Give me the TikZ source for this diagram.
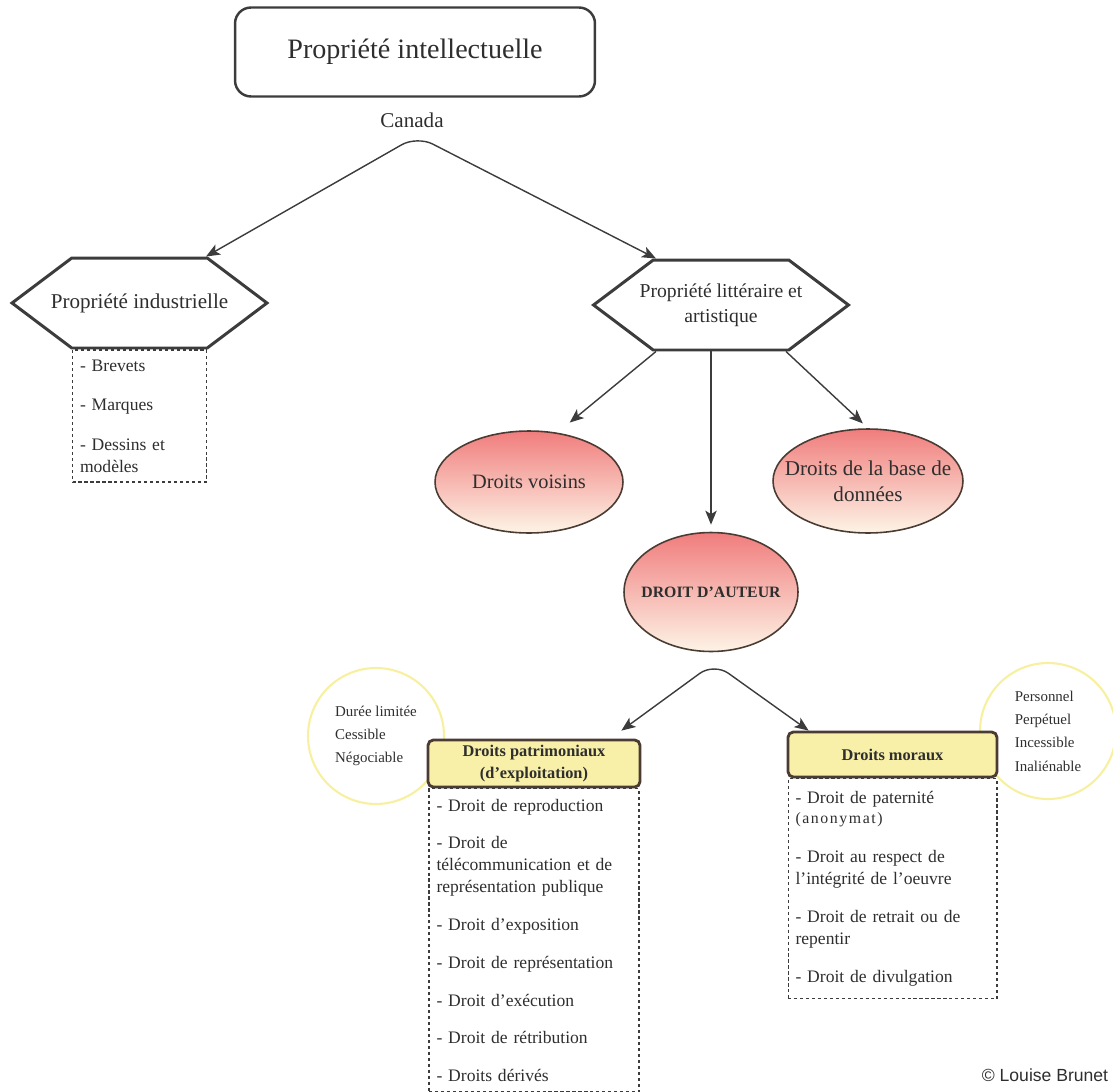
\documentclass[tikz,border=0pt]{standalone}
\usepackage{fontspec}
\setmainfont{Liberation Serif}
\newfontfamily\signfont{Liberation Sans}
\usetikzlibrary{shapes.symbols,shapes.geometric,arrows.meta,positioning}
\definecolor{inkgray}{HTML}{3C3C3C}
\definecolor{textgray}{HTML}{2E2E2E}
\definecolor{roseTop}{RGB}{240,125,125}
\definecolor{roseBot}{RGB}{253,244,230}
\definecolor{rimBrown}{HTML}{4A3B33}
\definecolor{boxYellow}{RGB}{248,240,168}
\definecolor{ringYellow}{RGB}{247,240,160}
\begin{document}
\begin{tikzpicture}[x=0.02cm,y=-0.02cm,
  every node/.style={text=textgray},
  titlebox/.style={draw=inkgray,line width=1.4pt,rounded corners=0.32cm,minimum width=7.2cm,minimum height=1.78cm,font=\fontsize{16}{19}\selectfont},
  hexbox/.style={draw=inkgray,line width=1.7pt,signal,signal to=east and west,signal pointer angle=74,minimum width=5.1cm,minimum height=1.8cm,inner xsep=-0.5cm,inner ysep=0pt,align=center},
  listbox/.style={draw=inkgray,line width=0.6pt,dash pattern=on 1.8pt off 1.6pt,anchor=north,align=left,inner xsep=0.15cm,font=\fontsize{10}{12.5}\selectfont},
  rosebox/.style={ellipse,draw=rimBrown,line width=0.9pt,top color=roseTop,bottom color=roseBot,inner xsep=-0.45cm,inner ysep=0pt,align=center},
  rightsbox/.style={draw=rimBrown,line width=1.6pt,fill=boxYellow,rounded corners=3pt,inner ysep=1pt,align=center,font=\bfseries\fontsize{9.3}{12.5}\selectfont},
  ring/.style={circle,draw=ringYellow,line width=1.2pt,minimum size=2.72cm,inner sep=1pt,align=left,font=\fontsize{8.5}{13.3}\selectfont},
  link/.style={draw=inkgray,line width=0.8pt,rounded corners=10pt,{Stealth[length=8pt,width=6.5pt,inset=2pt]}-{Stealth[length=8pt,width=6.5pt,inset=2pt]}},
  branch/.style={draw=inkgray,line width=0.8pt,-{Stealth[length=8pt,width=6.5pt,inset=2pt]}}
]
\useasboundingbox (0,0) rectangle (1113,1092);
% Title
\node[titlebox] (intell) at (415,52) {Propriété intellectuelle};
\node[font=\fontsize{12}{14}\selectfont] (canada) at (412,120) {Canada};
\coordinate (fork1) at (417,136);
% Two branches of the property
\node[hexbox,font=\fontsize{12}{14}\selectfont] (indus) at (139.5,303) {Propriété industrielle};
\node[hexbox,font=\fontsize{11.2}{14}\selectfont] (litter) at (721,305) {Propriété littéraire et\\artistique};
\draw[link] ([xshift=1.33cm]indus.north) -- (fork1) -- ([xshift=-1.3cm]litter.north);
\node[listbox,text width=2.38cm,minimum height=2.64cm] (indusList) at (indus.south) {- Brevets\\[10pt]- Marques\\[10pt]- Dessins et\\modèles};
% Ellipses
\node[rosebox,minimum width=3.76cm,minimum height=2.04cm,font=\fontsize{11.6}{14}\selectfont] (voisins) at (529,482) {Droits voisins};
\node[rosebox,minimum width=3.8cm,minimum height=2.08cm,font=\fontsize{12}{14.7}\selectfont] (basedon) at (868,481) {Droits de la base de\\données};
\node[rosebox,minimum width=3.48cm,minimum height=2.38cm,font=\bfseries\fontsize{9}{11}\selectfont] (auteur) at (711,592) {DROIT D'AUTEUR};
\draw[branch,shorten >=9pt] ([xshift=-1.3cm]litter.south) -- (voisins.60);
\draw[branch,shorten >=4pt] (auteur.north |- litter.south) -- (auteur.north);
\draw[branch,shorten >=4pt] ([xshift=1.3cm]litter.south) -- (basedon.north);
% Features of each kind of right
\node[ring] (ringL) at (376,736) {Durée limitée\\Cessible\\Négociable};
\node[ring] (ringR) at (1048,731) {Personnel\\Perpétuel\\Incessible\\Inaliénable};
% Rights boxes
\node[rightsbox,minimum width=4.24cm,minimum height=0.94cm] (patri) at (534,763.5) {Droits patrimoniaux\\(d'exploitation)};
\node[rightsbox,minimum width=4.18cm,minimum height=0.9cm] (moraux) at (892.5,754.5) {Droits moraux};
\coordinate (fork2) at (714,663);
\draw[link] ([xshift=-0.4cm,yshift=0.16cm]patri.north east) -- (fork2) -- ([xshift=0.44cm]moraux.north west);
% Lists of rights
\node[listbox,text width=3.9cm,minimum height=6.06cm] (patriList) at (patri.south) {- Droit de reproduction\\[9pt]- Droit de\\télécommunication et de\\représentation publique\\[9pt]- Droit d'exposition\\[9pt]- Droit de représentation\\[9pt]- Droit d'exécution\\[9pt]- Droit de rétribution\\[9pt]- Droits dérivés};
\node[listbox,text width=3.88cm,minimum height=4.4cm] (morauxList) at (moraux.south) {- Droit de paternité\\[-1.5pt]{\fontsize{9}{10}\selectfont\addfontfeature{LetterSpace=10}(anonymat)}\\[10pt]- Droit au respect de\\l'intégrité de l'oeuvre\\[9pt]- Droit de retrait ou de\\repentir\\[9pt]- Droit de divulgation};
% Credit
\node[font=\signfont\fontsize{10}{12}\selectfont] (credit) at (1045,1075) {© Louise Brunet};
\end{tikzpicture}
\end{document}
